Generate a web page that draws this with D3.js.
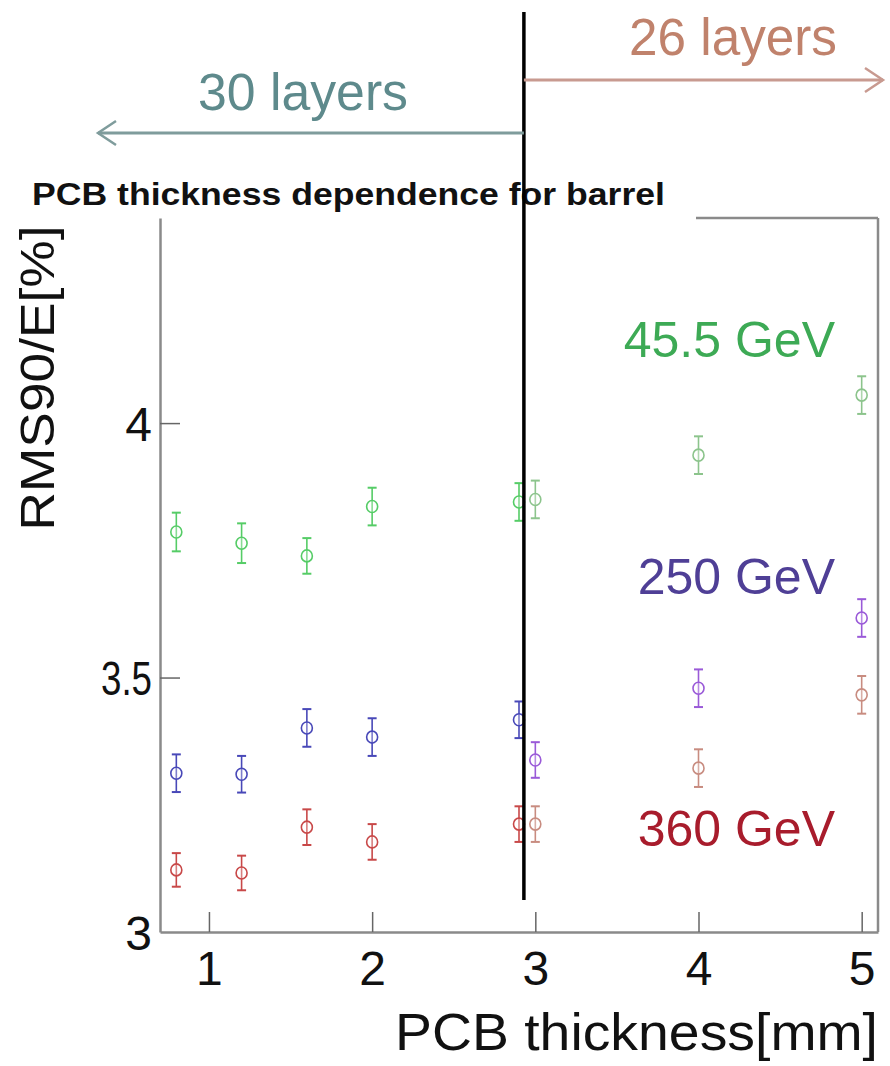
<!DOCTYPE html>
<html>
<head>
<meta charset="utf-8">
<script src="https://cdn.jsdelivr.net/npm/d3@7"></script>
<style>
  html, body { margin: 0; padding: 0; background: #fff; }
  svg { display: block; font-family: "Liberation Sans", Arial, sans-serif; }
</style>
</head>
<body>
<svg id="chart" width="890" height="1066"></svg>
<script>
// PCB thickness [mm] for the 30-layer and 26-layer configurations
const thickness30 = [0.8, 1.2, 1.6, 2.0, 2.9];
const thickness26 = [3.0, 4.0, 5.0];

// RMS90/E [%] per beam energy
const gev45_30 = [3.786, 3.764, 3.739, 3.836, 3.845];
const gev45_26 = [3.850, 3.937, 4.055];
const gev250_30 = [3.312, 3.310, 3.401, 3.383, 3.417];
const gev250_26 = [3.338, 3.479, 3.617];
const gev360_30 = [3.122, 3.116, 3.206, 3.177, 3.212];
const gev360_26 = [3.212, 3.322, 3.466];

// statistical uncertainties
const err45_30 = [0.038, 0.039, 0.035, 0.037, 0.037];
const err45_26 = [0.037, 0.037, 0.037];
const err250_30 = [0.037, 0.036, 0.037, 0.037, 0.036];
const err250_26 = [0.035, 0.037, 0.037];
const err360_30 = [0.033, 0.034, 0.035, 0.035, 0.035];
const err360_26 = [0.035, 0.037, 0.037];

const xTicks = [1, 2, 3, 4, 5];
const yTicks = [3, 3.5, 4];
const layerBoundary = 2.93;

const svg = d3.select("#chart");
const plot = { left: 160, right: 878, top: 218, bottom: 932 };

const x = d3.scaleLinear().domain([0.7, 5.1]).range([plot.left, plot.right]);
const y = d3.scaleLinear().domain([3, 4.403]).range([plot.bottom, plot.top]);

const series = [
  { xs: thickness30, ys: gev45_30,  es: err45_30,  color: "#55cc66" },
  { xs: thickness26, ys: gev45_26,  es: err45_26,  color: "#8cc48c" },
  { xs: thickness30, ys: gev250_30, es: err250_30, color: "#4848b8" },
  { xs: thickness26, ys: gev250_26, es: err250_26, color: "#9a5ad8" },
  { xs: thickness30, ys: gev360_30, es: err360_30, color: "#c84848" },
  { xs: thickness26, ys: gev360_26, es: err360_26, color: "#c88c80" }
];

const axisColor = "#8a8a8a";

// title with a white backing that hides the top frame on the left
svg.append("rect").attr("x", 28).attr("y", 175).attr("width", 668).attr("height", 50).attr("fill", "#fff");
svg.append("text")
  .attr("x", 32).attr("y", 205)
  .attr("font-size", 32).attr("font-weight", "bold").attr("fill", "#111")
  .attr("textLength", 633).attr("lengthAdjust", "spacingAndGlyphs")
  .text("PCB thickness dependence for barrel");

// frame: visible top segment and right side
svg.append("line").attr("x1", 696).attr("x2", x.range()[1]).attr("y1", y.range()[1]).attr("y2", y.range()[1])
  .attr("stroke", axisColor).attr("stroke-width", 2.5);
svg.append("line").attr("x1", x.range()[1]).attr("x2", x.range()[1]).attr("y1", y.range()[1]).attr("y2", y.range()[0])
  .attr("stroke", axisColor).attr("stroke-width", 2.5);

// axes with inward ticks
const xAxis = svg.append("g").attr("transform", `translate(0,${plot.bottom})`)
  .call(d3.axisBottom(x).tickValues(xTicks).tickFormat(d3.format("d")).tickSizeInner(-20).tickSizeOuter(0).tickPadding(24));
const yAxis = svg.append("g").attr("transform", `translate(${plot.left},0)`)
  .call(d3.axisLeft(y).tickValues(yTicks).tickFormat(d => d === 3.5 ? "3.5" : d3.format("d")(d)).tickSizeInner(-20).tickSizeOuter(0).tickPadding(8));

[xAxis, yAxis].forEach(g => {
  g.select(".domain").attr("stroke", axisColor).attr("stroke-width", 2.5);
  g.selectAll(".tick line").attr("stroke", "#666").attr("stroke-width", 1.5);
  g.selectAll(".tick text").attr("fill", "#111").attr("font-size", 48).attr("font-family", "Liberation Sans, Arial, sans-serif");
});
yAxis.selectAll(".tick text").attr("dy", "0.36em");
yAxis.selectAll(".tick").filter(d => d === 3.5).select("text")
  .attr("textLength", 51).attr("lengthAdjust", "spacingAndGlyphs");
xAxis.selectAll(".tick text").attr("dy", "0.6em");
// the bottom tick at 3 carries no mark on the axis itself
yAxis.selectAll(".tick").filter(d => d === 3).select("line").remove();

// axis titles
svg.append("text")
  .attr("x", x.range()[1]).attr("y", 1050).attr("text-anchor", "end")
  .attr("font-size", 52).attr("fill", "#111")
  .attr("textLength", 483).attr("lengthAdjust", "spacingAndGlyphs")
  .text("PCB thickness[mm]");
svg.append("text")
  .attr("transform", "translate(54,378) rotate(-90)").attr("text-anchor", "middle")
  .attr("font-size", 48).attr("fill", "#111")
  .attr("textLength", 305).attr("lengthAdjust", "spacingAndGlyphs")
  .text("RMS90/E[%]");

// data: error bars with caps and open circles
const points = svg.append("g");
series.forEach(s => {
  const rows = s.xs.map((v, i) => ({ x: v, y: s.ys[i], e: s.es[i] }));
  const g = points.append("g").attr("stroke", s.color).attr("fill", "none").attr("stroke-width", 1.6);
  g.selectAll(".bar").data(rows).join("line")
    .attr("x1", d => x(d.x)).attr("x2", d => x(d.x))
    .attr("y1", d => y(d.y - d.e)).attr("y2", d => y(d.y + d.e));
  g.selectAll(".capTop").data(rows).join("line")
    .attr("x1", d => x(d.x) - 4.5).attr("x2", d => x(d.x) + 4.5)
    .attr("y1", d => y(d.y + d.e)).attr("y2", d => y(d.y + d.e)).attr("stroke-width", 2);
  g.selectAll(".capBot").data(rows).join("line")
    .attr("x1", d => x(d.x) - 4.5).attr("x2", d => x(d.x) + 4.5)
    .attr("y1", d => y(d.y - d.e)).attr("y2", d => y(d.y - d.e)).attr("stroke-width", 2);
  g.selectAll("ellipse").data(rows).join("ellipse")
    .attr("cx", d => x(d.x)).attr("cy", d => y(d.y))
    .attr("rx", 5.5).attr("ry", 6).attr("fill", "#fff").attr("fill-opacity", 0.3);
});

// energy labels
const energyLabels = [
  { text: "45.5 GeV", y: 357, color: "#3daa55" },
  { text: "250 GeV",  y: 594, color: "#4f3f96" },
  { text: "360 GeV",  y: 846, color: "#a81c2c" }
];
svg.selectAll(".elabel").data(energyLabels).join("text")
  .attr("x", 835).attr("y", d => d.y).attr("text-anchor", "end")
  .attr("font-size", 50).attr("fill", d => d.color)
  .text(d => d.text);

// layer-count boundary and arrows
const bx = x(layerBoundary);
svg.append("line").attr("x1", bx).attr("x2", bx).attr("y1", 12).attr("y2", y(3.063))
  .attr("stroke", "#000").attr("stroke-width", 3.5);

function arrow(x1, x2, yy, color) {
  const dir = Math.sign(x2 - x1);
  svg.append("line").attr("x1", x1).attr("x2", x2).attr("y1", yy).attr("y2", yy)
    .attr("stroke", color).attr("stroke-width", 3);
  svg.append("path")
    .attr("d", `M${x2 - dir * 18},${yy - 12} L${x2},${yy} L${x2 - dir * 18},${yy + 12}`)
    .attr("fill", "none").attr("stroke", color).attr("stroke-width", 2.5);
}
arrow(bx, 98, 133, "#7f9c9c");
arrow(bx, 883, 80, "#c89a90");

svg.append("text").attr("x", 198).attr("y", 110)
  .attr("font-size", 51).attr("fill", "#5e8a8c")
  .attr("textLength", 210).attr("lengthAdjust", "spacingAndGlyphs")
  .text("30 layers");
svg.append("text").attr("x", 629).attr("y", 55)
  .attr("font-size", 51).attr("fill", "#c0826c")
  .attr("textLength", 208).attr("lengthAdjust", "spacingAndGlyphs")
  .text("26 layers");
</script>
</body>
</html>
